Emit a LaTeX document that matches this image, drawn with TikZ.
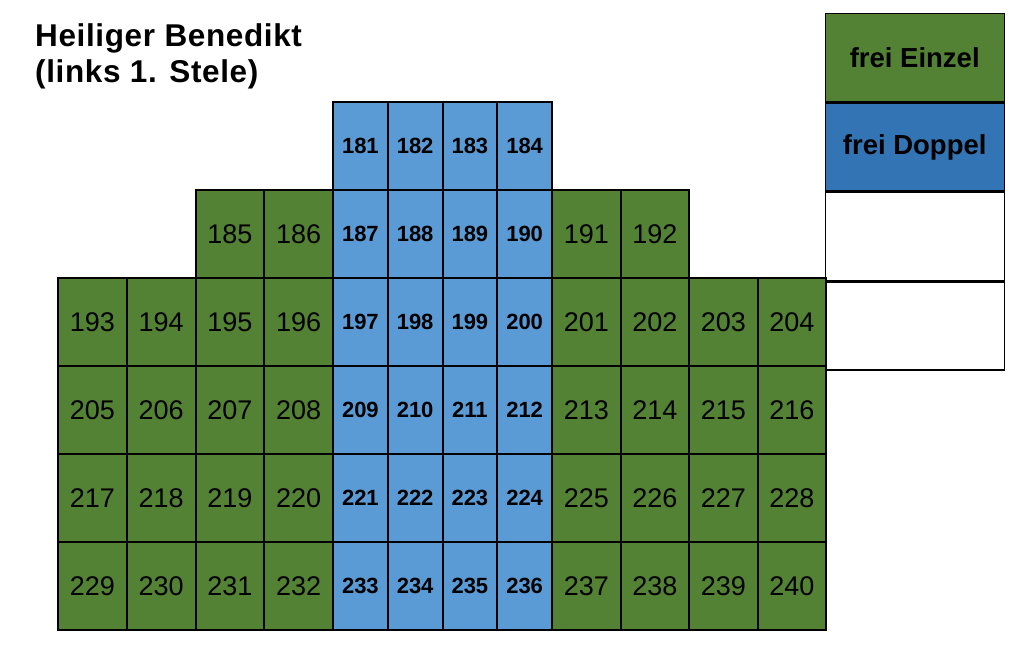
\documentclass[tikz,border=0pt]{standalone}
\usepackage{fontspec}
\setmainfont{Liberation Sans}
\usetikzlibrary{positioning}
\definecolor{einzelgreen}{RGB}{84,130,53}
\definecolor{doppelblue}{RGB}{91,155,213}
\definecolor{legendblue}{RGB}{50,116,180}
\tikzset{
    cell/.style={
        rectangle,
        draw=black,
        line width=2pt,
        anchor=north west,
        inner sep=0pt,
        minimum height=88pt
    },
    single/.style={
        cell,
        fill=einzelgreen,
        minimum width=68.75pt,
        font=\fontsize{27}{27}\selectfont
    },
    double/.style={
        cell,
        fill=doppelblue,
        minimum width=54.75pt,
        font=\bfseries\fontsize{22}{22}\selectfont
    },
    legend/.style={
        rectangle,
        draw=black,
        line width=1.4pt,
        anchor=north west,
        inner sep=0pt,
        minimum width=179pt,
        minimum height=88pt,
        font=\bfseries\fontsize{27.5}{27.5}\selectfont
    },
    title/.style={
        anchor=north west,
        inner sep=0pt,
        align=left,
        font=\bfseries\addfontfeatures{LetterSpace=2}\fontsize{31.5}{36}\selectfont
    }
}

\begin{document}
\begin{tikzpicture}[x=1pt, y=-1pt]

\useasboundingbox (0,0) rectangle (1024,652);

% Title
\node[title] (title) at (35,23) {Heiliger Benedikt\\(links 1. Stele)};

% Top row (blue only)
\foreach \c/\x in {0/332, 1/386.75, 2/441.5, 3/496.25} {
    \pgfmathtruncatemacro\num{181+\c}
    \node[double] (c\num) at (\x,101) {\num};
}

% Second row
\node[single] (c185) at (194.5,189) {185};
\node[single] (c186) at (263.25,189) {186};
\foreach \c/\x in {0/332, 1/386.75, 2/441.5, 3/496.25} {
    \pgfmathtruncatemacro\num{187+\c}
    \node[double] (c\num) at (\x,189) {\num};
}
\node[single] (c191) at (551,189) {191};
\node[single] (c192) at (619.5,189) {192};

% Full rows
\foreach \r in {0,...,3} {
    \foreach \c/\x/\kind in {0/57/single, 1/125.75/single, 2/194.5/single, 3/263.25/single,
                             4/332/double, 5/386.75/double, 6/441.5/double, 7/496.25/double,
                             8/551/single, 9/619.5/single, 10/688/single, 11/756.5/single} {
        \pgfmathtruncatemacro\num{193+12*\r+\c}
        \node[\kind] (c\num) at (\x,277+88*\r) {\num};
    }
}

% Legend
\node[legend, fill=einzelgreen] (leg1) at (824.5,13) {frei Einzel};
\node[legend, fill=legendblue, below=0pt of leg1.south west, anchor=north west] (leg2) {frei Doppel};
\node[legend, below=0pt of leg2.south west, anchor=north west] (leg3) {};
\node[legend, below=0pt of leg3.south west, anchor=north west] (leg4) {};

\end{tikzpicture}
\end{document}
